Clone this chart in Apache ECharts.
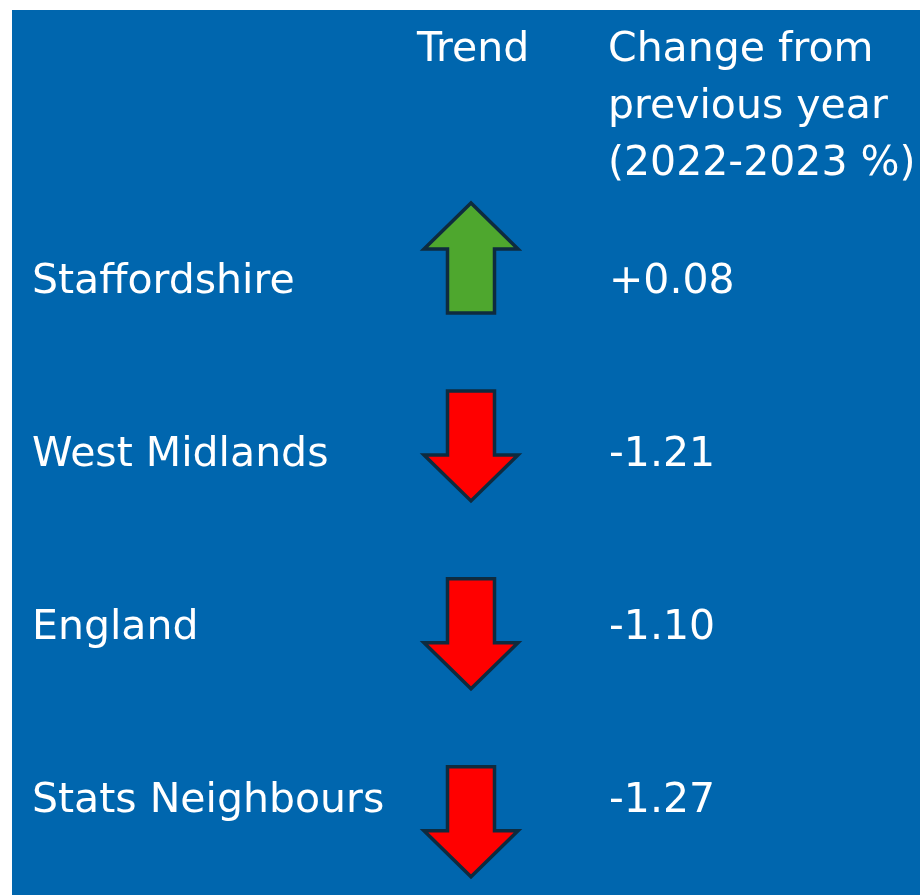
<!DOCTYPE html>
<html>
<head>
<meta charset="utf-8">
<script src="https://cdn.jsdelivr.net/npm/echarts@6/dist/echarts.min.js"></script>
<style>
html, body { margin: 0; padding: 0; background: #fff; }
#main { width: 920px; height: 895px; }
</style>
</head>
<body>
<div id="main"></div>
<script>
// data
const regions = ['Staffordshire', 'West Midlands', 'England', 'Stats Neighbours'];
const changes = [0.08, -1.21, -1.10, -1.27];
const trendHeader = 'Trend';
const changeHeader = 'Change from\nprevious year\n(2022-2023 %)';

const FONT = '"DejaVu Sans", sans-serif';
const FS = 41;
const BLUE = '#0066AE';
const GREEN = '#4EA72E';
const RED = '#FF0000';
const TREND_X = 471;   // column centre on the 0..920 x axis
const VALUE_X = 609;   // column start

function fmt(v) {
  return (v > 0 ? '+' : '') + v.toFixed(2);
}

// arrow drawn around the row position, pointing by the sign of the change
function renderArrow(params, api) {
  const c = api.coord([api.value(0), api.value(1)]);
  const up = api.value(2) >= 0;
  const hw = 47, sw = 23.5, headLen = 46, half = 55;
  const d = up ? -1 : 1;
  const tipY = c[1] + d * half;
  const baseY = c[1] - d * half;
  const neckY = tipY - d * headLen;
  const x = c[0];
  return {
    type: 'polygon',
    shape: {
      points: [
        [x - sw, baseY], [x + sw, baseY], [x + sw, neckY], [x + hw, neckY],
        [x, tipY], [x - hw, neckY], [x - sw, neckY]
      ]
    },
    style: { fill: up ? GREEN : RED, stroke: '#0E2B3F', lineWidth: 3.5, lineJoin: 'miter' }
  };
}

function renderValue(params, api) {
  const c = api.coord([api.value(0), api.value(1)]);
  return {
    type: 'text',
    x: c[0],
    y: c[1],
    style: {
      text: fmt(api.value(2)),
      fill: '#fff',
      font: FS + 'px ' + FONT,
      verticalAlign: 'middle',
      align: 'left'
    }
  };
}

const chart = echarts.init(document.getElementById('main'));

const headerStyle = { color: '#fff', fontFamily: FONT, fontSize: FS, fontWeight: 'normal', lineHeight: 57 };

const option = {
  backgroundColor: '#fff',
  animation: false,
  graphic: [{
    type: 'rect',
    left: 12,
    top: 10,
    z: -10,
    shape: { width: 908, height: 885 },
    style: { fill: BLUE }
  }],
  title: [
    { text: trendHeader, left: 417, top: 22, padding: 0, textStyle: headerStyle },
    { text: changeHeader, left: 608, top: 22, padding: 0, textStyle: headerStyle }
  ],
  grid: [
    { left: 0, right: 0, top: 196, height: 692 },  // labels + values
    { left: 0, right: 0, top: 164, bottom: 0 }     // arrows
  ],
  xAxis: [
    { gridIndex: 0, type: 'value', min: 0, max: 920, show: false },
    { gridIndex: 1, type: 'value', min: 0, max: 920, show: false }
  ],
  yAxis: [
    {
      gridIndex: 0,
      type: 'category',
      inverse: true,
      data: regions,
      axisLine: { show: false },
      axisTick: { show: false },
      splitLine: { show: false },
      axisLabel: {
        inside: true,
        margin: 32,
        color: '#fff',
        fontFamily: FONT,
        fontSize: FS
      }
    },
    {
      // row index scale for the arrows (they sit on a slightly wider pitch)
      gridIndex: 1,
      type: 'value',
      inverse: true,
      min: -0.5,
      max: 3.39,
      show: false
    }
  ],
  series: [
    {
      type: 'custom',
      name: 'Trend',
      xAxisIndex: 1,
      yAxisIndex: 1,
      renderItem: renderArrow,
      data: changes.map((v, i) => [TREND_X, i, v])
    },
    {
      type: 'custom',
      name: 'Change',
      xAxisIndex: 0,
      yAxisIndex: 0,
      renderItem: renderValue,
      data: changes.map((v, i) => [VALUE_X, i, v])
    }
  ]
};

chart.setOption(option);
</script>
</body>
</html>
